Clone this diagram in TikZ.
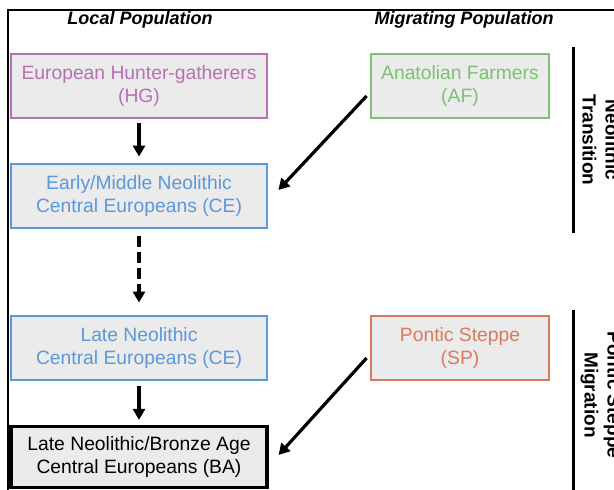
\documentclass[tikz,border=0pt]{standalone}
\usepackage{fontspec}
\setmainfont{Liberation Sans}
\usepackage{tikz}
\usepackage{xcolor}
\usetikzlibrary{positioning,shapes,arrows.meta}
\definecolor{hgcol}{RGB}{182,112,180}
\definecolor{afcol}{RGB}{125,192,115}
\definecolor{cecol}{RGB}{92,152,218}
\definecolor{spcol}{RGB}{218,122,92}
\definecolor{boxfill}{RGB}{235,235,235}

\begin{document}
\begin{tikzpicture}[x=1pt,y=-1pt]
\tikzstyle{popbox}=[draw,fill=boxfill,line width=2.8pt,minimum height=64pt,align=center,font=\fontsize{19.3}{23}\selectfont,inner sep=0pt]
\tikzstyle{localbox}=[popbox,minimum width=256pt]
\tikzstyle{migbox}=[popbox,minimum width=178pt]
\tikzstyle{head}=[font=\fontsize{18}{20}\selectfont\bfseries\itshape]
\tikzstyle{side}=[font=\fontsize{19}{23}\selectfont\bfseries,align=center,rotate=-90]
\tikzstyle{flow}=[line width=3.2pt,-{Triangle[width=12pt,length=11pt]}]
\useasboundingbox (0,0) rectangle (614,490);
\clip (0,0) rectangle (614,490);
\coordinate (frameA) at (8,490);
\coordinate (frameB) at (8,10);
\coordinate (frameC) at (614,10);
\draw [line width=1.6pt] (frameA) -- (frameB) -- (frameC);
\node [head] (local) at (140,20) {Local Population};
\node [head] (migr) at (464,20) {Migrating Population};
\node [localbox,draw=hgcol,text=hgcol] (HG) at (139,86) {European Hunter-gatherers\\(HG)};
\node [migbox,draw=afcol,text=afcol] (AF) at (460,86) {Anatolian Farmers\\(AF)};
\node [localbox,draw=cecol,text=cecol] (CEa) at (139,196) {Early/Middle Neolithic\\Central Europeans (CE)};
\node [localbox,draw=cecol,text=cecol] (CEb) at (139,348) {Late Neolithic\\Central Europeans (CE)};
\node [migbox,draw=spcol,text=spcol] (SP) at (460,348) {Pontic Steppe\\(SP)};
\node [localbox,draw=black,line width=3.2pt,minimum height=61pt] (BA) at (139,457) {Late Neolithic/Bronze Age\\Central Europeans (BA)};
\draw [flow,shorten <=4pt,shorten >=6pt] (HG) -- (CEa);
\draw [flow,dash pattern=on 11pt off 5pt,shorten <=7pt,shorten >=12pt] (CEa) -- (CEb);
\draw [flow,shorten <=5pt,shorten >=5pt] (CEb) -- (BA);
\draw [flow] ([xshift=-3pt,yshift=-10pt]AF.west) -- ([xshift=10pt,yshift=6pt]CEa.east);
\draw [flow] ([xshift=-3pt,yshift=-10pt]SP.west) -- ([xshift=10pt,yshift=2pt]BA.east);
\coordinate (barAtop) at (573,47);
\coordinate (barAbot) at (573,233);
\coordinate (barBtop) at (573,310);
\coordinate (barBbot) at (573,490);
\draw [line width=3pt] (barAtop) -- (barAbot);
\draw [line width=3pt] (barBtop) -- (barBbot);
\node [side] (neo) at (601,140) {Neolithic\\Transition};
\node [side] (pont) at (601,395) {Pontic Steppe\\Migration};
\end{tikzpicture}
\end{document}
